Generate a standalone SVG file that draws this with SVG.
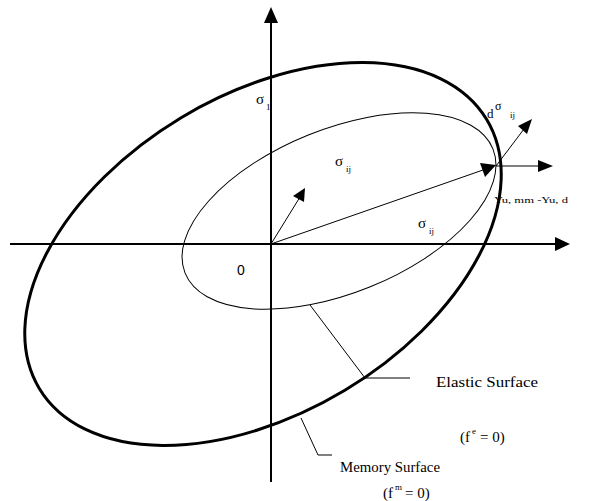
<svg xmlns="http://www.w3.org/2000/svg" width="594" height="501" viewBox="0 0 594 501">
<defs>
<style>
.ax{stroke:#000;stroke-width:2;fill:none}
.thin{stroke:#000;stroke-width:1;fill:none}
.thick{stroke:#000;stroke-width:3;fill:none}
.head{fill:#000;stroke:none}
.lbl{font-family:"Liberation Serif","Times New Roman",serif;font-size:15px;fill:#000}
.sym{font-family:"Liberation Serif","Times New Roman",serif;font-size:15px;fill:#000}
.sub{font-family:"Liberation Serif","Times New Roman",serif;font-size:9px;fill:#000}
.sans{font-family:"Liberation Sans",Arial,sans-serif;font-size:14px;fill:#000}
</style>
</defs>
<rect width="594" height="501" fill="#fff"/>
<g id="axes">
<line class="ax" x1="271" y1="482" x2="271" y2="20"/>
<polygon class="head" points="271,7 264,23 278,23"/>
<line class="ax" x1="10" y1="244" x2="557" y2="244"/>
<polygon class="head" points="570,244 555,237 555,251"/>
</g>
<g id="memory-surface">
<ellipse class="thick" cx="263" cy="254" rx="261" ry="159" transform="rotate(-31 263 254)"/>
</g>
<g id="elastic-surface">
<ellipse class="thin" cx="339" cy="211" rx="166" ry="82" transform="rotate(-22 339 211)"/>
</g>
<g id="connectors">
<line class="thin" x1="271" y1="244" x2="483" y2="170"/>
<polygon class="head" points="496,165 480,163 485,177"/>
<line class="thin" x1="271" y1="244" x2="300" y2="197"/>
<polygon class="head" points="305,188 293,196 304,202"/>
<line class="thin" x1="496" y1="166" x2="524" y2="129"/>
<polygon class="head" points="532,119 518,126 527,134"/>
<line class="thin" x1="496" y1="166" x2="540" y2="166"/>
<polygon class="head" points="553,166 538,160 538,172"/>
<polyline class="thin" points="310,305 365,378 410,378"/>
<polyline class="thin" points="301,418 318,455 332,455"/>
</g>
<g id="labels">
<text class="sym" x="256" y="104">σ</text><text class="sub" x="266" y="110">1</text>
<text class="sym" x="335" y="166">σ</text><text class="sub" x="346" y="172">ij</text>
<text class="sym" x="418" y="228">σ</text><text class="sub" x="429" y="234">ij</text>
<text class="lbl" x="487" y="118" style="font-size:13px">d</text><text class="sym" x="495" y="110" style="font-size:12px">σ</text><text class="sub" x="510" y="118">ij</text>
<text class="sub" x="494" y="203" textLength="74" lengthAdjust="spacingAndGlyphs">Yu, mm -Yu, d</text>
<text class="sans" x="237" y="275">0</text>
<text class="lbl" x="436" y="387" textLength="102" lengthAdjust="spacingAndGlyphs">Elastic Surface</text>
<text class="lbl" x="460" y="442">(f</text><text class="sub" x="472" y="434">e</text><text class="lbl" x="480" y="442"> = 0)</text>
<text class="lbl" x="340" y="472" textLength="100" lengthAdjust="spacingAndGlyphs">Memory Surface</text>
<text class="lbl" x="383" y="498">(f</text><text class="sub" x="395" y="490">m</text><text class="lbl" x="405" y="498"> = 0)</text>
</g>
</svg>
